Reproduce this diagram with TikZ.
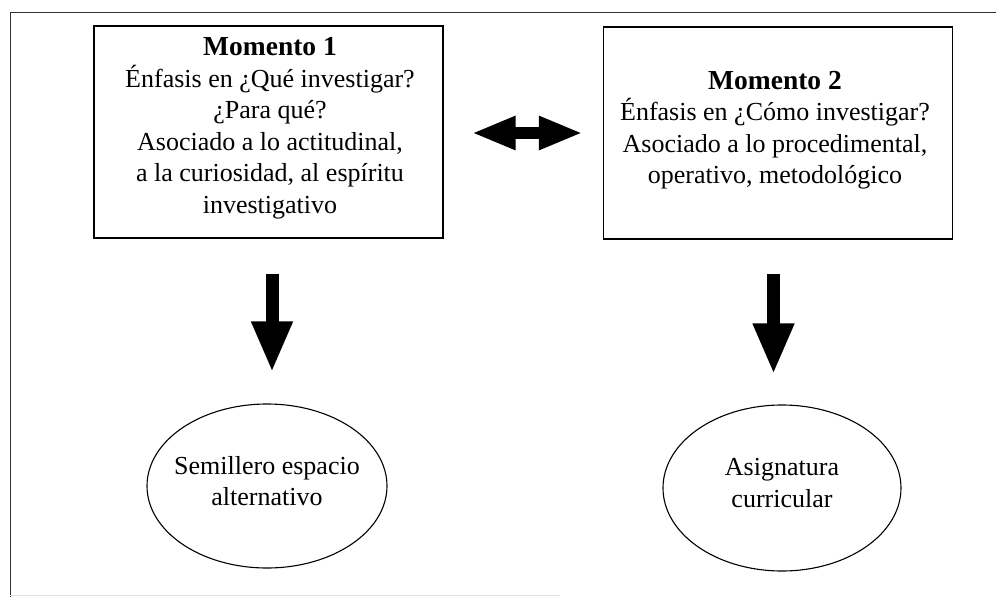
\documentclass[tikz,border=0pt]{standalone}
\usepackage{fontspec}
\setmainfont{Liberation Serif}
\usetikzlibrary{shapes.geometric,arrows.meta,calc}
\newcommand{\boldtitle}[1]{{\fontsize{27.5}{31.5}\selectfont\textbf{#1}}}
\begin{document}
\begin{tikzpicture}[x=1pt,y=-1pt,
  txt/.style={font=\fontsize{26}{31.5}\selectfont, align=center, inner sep=0pt},
  momento/.style={draw, line width=1.2pt, minimum width=349pt, minimum height=212pt, inner sep=0pt},
  oval/.style={draw, ellipse, line width=1.1pt, minimum width=240pt, minimum height=164pt, inner sep=0pt},
  bigarrow/.style={line width=13pt, -{Triangle[length=51pt,width=38pt]}},
  dblarrow/.style={line width=12pt, {Triangle[length=44pt,width=31pt]}-{Triangle[length=44pt,width=31pt]}}
]
\useasboundingbox (0,0) rectangle (996,597);
\fill[white] (0,0) rectangle (996,597);
% frame
\draw[line width=1pt, black!80] (10,597) -- (10,12) -- (996,12);
\draw[line width=0.8pt, black!12] (10,595) -- (560,595);

% boxes
\node[momento] (b1) at (268.5,132) {};
\node[momento] (b2) at (778,133) {};
\node[txt] (t1) at (270,128) {\boldtitle{Momento 1}\\Énfasis en ¿Qué investigar?\\¿Para qué?\\Asociado a lo actitudinal,\\a la curiosidad, al espíritu\\investigativo};
\node[txt] (t2) at (775,130) {\boldtitle{Momento 2}\\Énfasis en ¿Cómo investigar?\\Asociado a lo procedimental,\\operativo, metodológico};

% ellipses
\node[oval] (e1) at (267,486) {};
\node[oval, minimum width=238pt, minimum height=166pt] (e2) at (782,488) {};
\node[txt] (s1) at (267,481) {Semillero espacio\\alternativo};
\node[txt] (s2) at (782,483) {Asignatura\\curricular};

% arrows
\draw[dblarrow, shorten <=28pt, shorten >=20pt] (b1.east |- 0,133) -- (b2.west |- 0,133);
\draw[bigarrow, shorten <=35pt, shorten >=31pt] ([xshift=3.5pt]b1.south) -- ([xshift=3.5pt]b1.south |- e1.north);
\draw[bigarrow, shorten <=34pt, shorten >=30pt] ([xshift=-4.5pt]b2.south) -- ([xshift=-4.5pt]b2.south |- e2.north);
\end{tikzpicture}
\end{document}
